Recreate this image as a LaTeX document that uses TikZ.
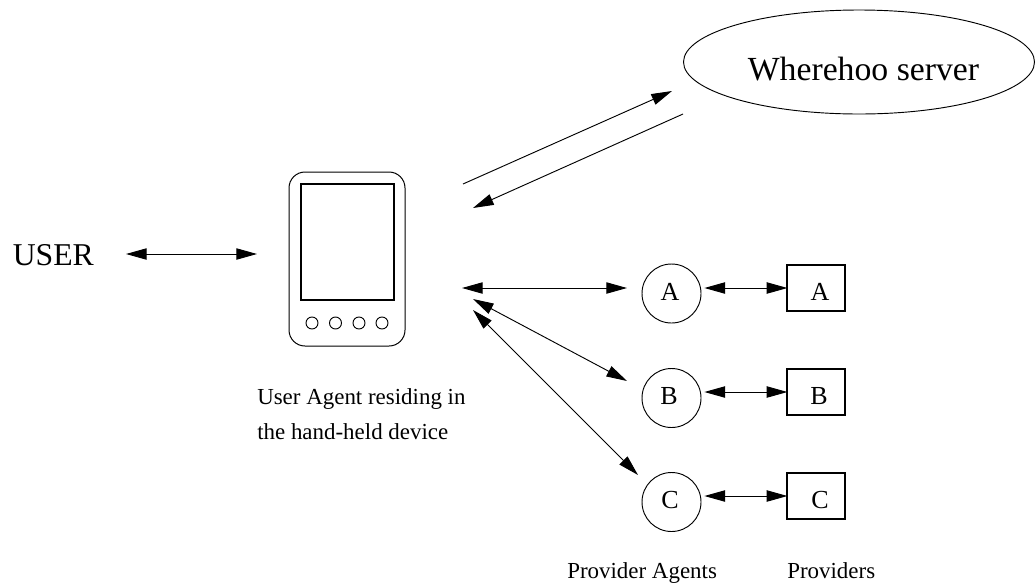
\documentclass[tikz,border=0pt]{standalone}
\usepackage{fontspec}
\setmainfont{Liberation Serif}
\usetikzlibrary{arrows.meta,shapes.geometric}
\tikzset{
  x=0.75pt,y=-0.75pt,
  line/.style={line width=0.7pt,black},
  link/.style={line,-{Triangle[length=15.5pt,width=8.5pt]}},
  dbl/.style={line,{Triangle[length=15.5pt,width=8.5pt]}-{Triangle[length=15.5pt,width=8.5pt]}},
  agent/.style={circle,draw,line width=0.7pt,minimum size=59*0.75pt,inner sep=0pt},
  prov/.style={rectangle,draw,line width=0.8pt,minimum width=58*0.75pt,minimum height=46*0.75pt,inner sep=0pt},
  letter/.style={inner sep=0pt,anchor=base,font=\fontsize{19.5pt}{22pt}\selectfont},
  small/.style={inner sep=0pt,anchor=base west,font=\fontsize{17.2pt}{20pt}\selectfont},
  btn/.style={circle,draw,line width=0.7pt,minimum size=12*0.75pt,inner sep=0pt}
}
\begin{document}
\begin{tikzpicture}
\useasboundingbox (0,0) rectangle (1035,583);
\node[ellipse,draw,line width=0.7pt,minimum width=351*0.75pt,minimum height=104*0.75pt,inner sep=0pt] (srv) at (859,62) {};
\node[inner sep=0pt,anchor=base,font=\fontsize{25.3pt}{28pt}\selectfont] (srvt) at (863.5,80) {Wherehoo server};
\node[inner sep=0pt,anchor=base west,font=\fontsize{23.8pt}{26pt}\selectfont] (user) at (12.5,265) {USER};
\node[draw,rounded corners=12pt,line width=0.75pt,minimum width=116*0.75pt,minimum height=174*0.75pt,inner sep=0pt] (dev) at (347,259) {};
\node[draw,line width=0.9pt,minimum width=93*0.75pt,minimum height=116*0.75pt,inner sep=0pt] (scr) at (347.5,242) {};
\node[btn] (b1) at (312,323) {};
\node[btn] (b2) at (335.5,323) {};
\node[btn] (b3) at (359,323) {};
\node[btn] (b4) at (382,323) {};
\node[small] (ua1) at (257,404) {User Agent residing in};
\node[small] (ua2) at (257,439) {the hand-held device};
\node[agent] (ca) at (671.5,293.5) {};
\node[agent] (cb) at (671.5,398) {};
\node[agent] (cc) at (671.5,502) {};
\node[prov] (pa) at (816,288) {};
\node[prov] (pb) at (816,392) {};
\node[prov] (pc) at (816,496) {};
\node[letter] (la) at (670,300) {A};
\node[letter] (lb) at (669,404) {B};
\node[letter] (lc) at (670,508) {C};
\node[letter] (ra) at (820,300) {A};
\node[letter] (rb) at (819,404) {B};
\node[letter] (rc) at (820,508) {C};
\node[small] (lpa) at (567,578) {Provider Agents};
\node[small] (lpr) at (787,578) {Providers};
\coordinate (u1) at (126,254);
\coordinate (u2) at (257,254);
\coordinate (t1) at (463,184);
\coordinate (t2) at (672,91);
\coordinate (t3) at (683,114);
\coordinate (t4) at (473,208);
\coordinate (h1) at (462,288);
\coordinate (h2) at (627,288);
\coordinate (h3) at (473,299);
\coordinate (h4) at (627,381);
\coordinate (h5) at (473,310);
\coordinate (h6) at (638,475);
\draw[dbl] (u1) -- (u2);
\draw[link] (t1) -- (t2);
\draw[link] (t3) -- (t4);
\draw[dbl] (h1) -- (h2);
\draw[dbl] (h3) -- (h4);
\draw[dbl] (h5) -- (h6);
\draw[dbl,shorten <=2.2pt,shorten >=-0.7pt] (ca.east |- pa.west) -- (pa.west);
\draw[dbl,shorten <=2.2pt,shorten >=-0.7pt] (cb.east |- pb.west) -- (pb.west);
\draw[dbl,shorten <=2.2pt,shorten >=-0.7pt] (cc.east |- pc.west) -- (pc.west);
\end{tikzpicture}
\end{document}
